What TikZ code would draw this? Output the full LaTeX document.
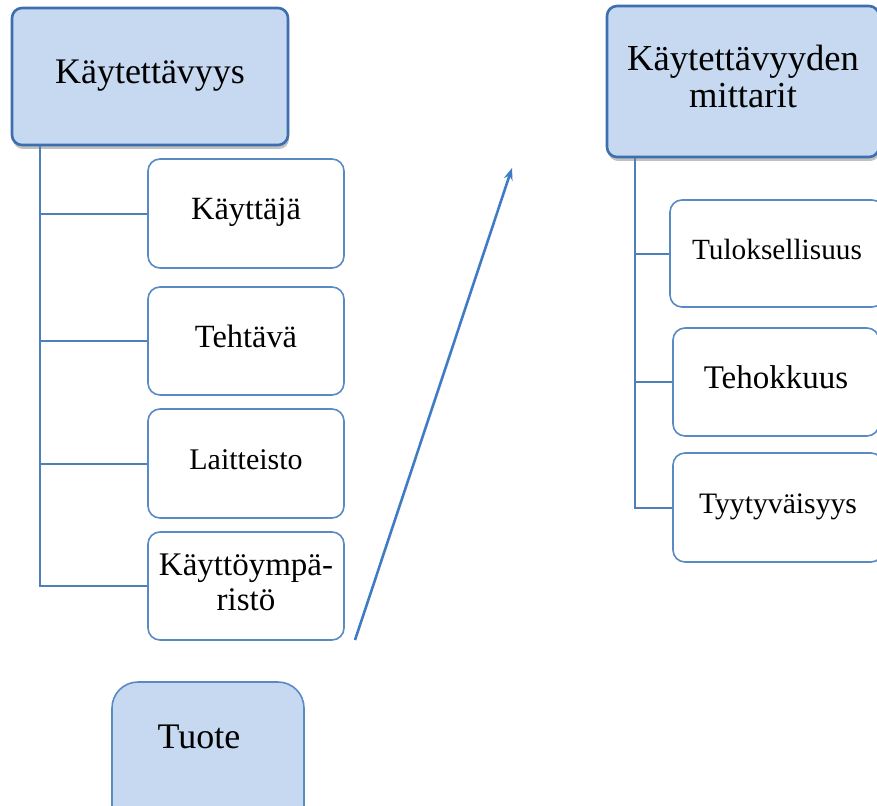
\documentclass[tikz,border=0pt]{standalone}
\usepackage{fontspec}
\setmainfont{Liberation Serif}
\usetikzlibrary{shadows,arrows.meta}
\definecolor{boxfill}{HTML}{C6D9F0}
\definecolor{topborder}{HTML}{3D6FAE}
\definecolor{childborder}{HTML}{5A8AC4}
\definecolor{linkcol}{HTML}{4F7FB8}
\definecolor{arrowcol}{HTML}{3F7CC5}
\newcommand{\sizedtext}[2]{\raisebox{-3pt}{\scalebox{#1}{\fontsize{30}{30}\selectfont\begin{tabular}{@{}c@{}}#2\end{tabular}}}}
\tikzset{
  topbox/.style={draw=topborder, line width=2.6pt, fill=boxfill, rounded corners=10pt,
    drop shadow={shadow xshift=1pt, shadow yshift=-4pt, opacity=0.35, fill=black!70},
    inner sep=0pt, align=center},
  childbox/.style={draw=childborder, line width=1.6pt, fill=white, rounded corners=12pt,
    inner sep=0pt, align=center},
  prodbox/.style={draw=childborder, line width=1.6pt, fill=boxfill, rounded corners=26pt,
    inner sep=0pt, align=center},
  link/.style={draw=linkcol, line width=2pt},
  bigarrow/.style={draw=arrowcol, line width=2.6pt, -{Stealth[length=12pt,width=9pt]}}
}
\begin{document}
\begin{tikzpicture}[x=1pt,y=-1pt]
\useasboundingbox (0,0) rectangle (877,805);
\clip (0,0) rectangle (877,805);
% left hierarchy
\node[topbox, minimum width=276pt, minimum height=137pt] (lt) at (150,76.5) {\sizedtext{1.2}{Käytettävyys}};
\node[childbox, minimum width=196pt, minimum height=109pt] (c1) at (246,213.5) {\sizedtext{1.08}{Käyttäjä}};
\node[childbox, minimum width=196pt, minimum height=108pt] (c2) at (246,341) {\sizedtext{1.08}{Tehtävä}};
\node[childbox, minimum width=196pt, minimum height=109pt] (c3) at (246,463.5) {\sizedtext{1.0}{Laitteisto}};
\node[childbox, minimum width=196pt, minimum height=108pt] (c4) at (246,586) {\sizedtext{1.1}{Käyttöympä-\\[2pt]ristö}};
\coordinate (lstem) at (40,0);
\draw[link] (lstem |- lt.south) |- (c4.west);
\draw[link] (lstem |- c1.west) -- (c1.west);
\draw[link] (lstem |- c2.west) -- (c2.west);
\draw[link] (lstem |- c3.west) -- (c3.west);
% product box
\node[prodbox, minimum width=192pt, anchor=base, text height=66pt, text depth=110pt] (tuote) at (208,748) {\hspace*{-18pt}\scalebox{1.2}{\fontsize{30}{30}\selectfont Tuote}};
% right hierarchy
\node[topbox, minimum width=272pt, minimum height=151pt] (rt) at (743,81.5) {\sizedtext{1.22}{Käytettävyyden\\mittarit}};
\node[childbox, minimum width=214pt, minimum height=107pt] (d1) at (777,253.5) {\sizedtext{0.977}{Tuloksellisuus}};
\node[childbox, minimum width=206pt, minimum height=108pt] (d2) at (776,382) {\sizedtext{1.1}{Tehokkuus}};
\node[childbox, minimum width=210pt, minimum height=109pt] (d3) at (778,507.5) {\sizedtext{0.99}{Tyytyväisyys}};
\coordinate (rstem) at (635,0);
\draw[link] (rstem |- rt.south) |- (d3.west);
\draw[link] (rstem |- d1.west) -- (d1.west);
\draw[link] (rstem |- d2.west) -- (d2.west);
% arrow
\coordinate (as) at (355,640);
\coordinate (ae) at (512,168);
\draw[bigarrow] (as) -- (ae);
\end{tikzpicture}
\end{document}
